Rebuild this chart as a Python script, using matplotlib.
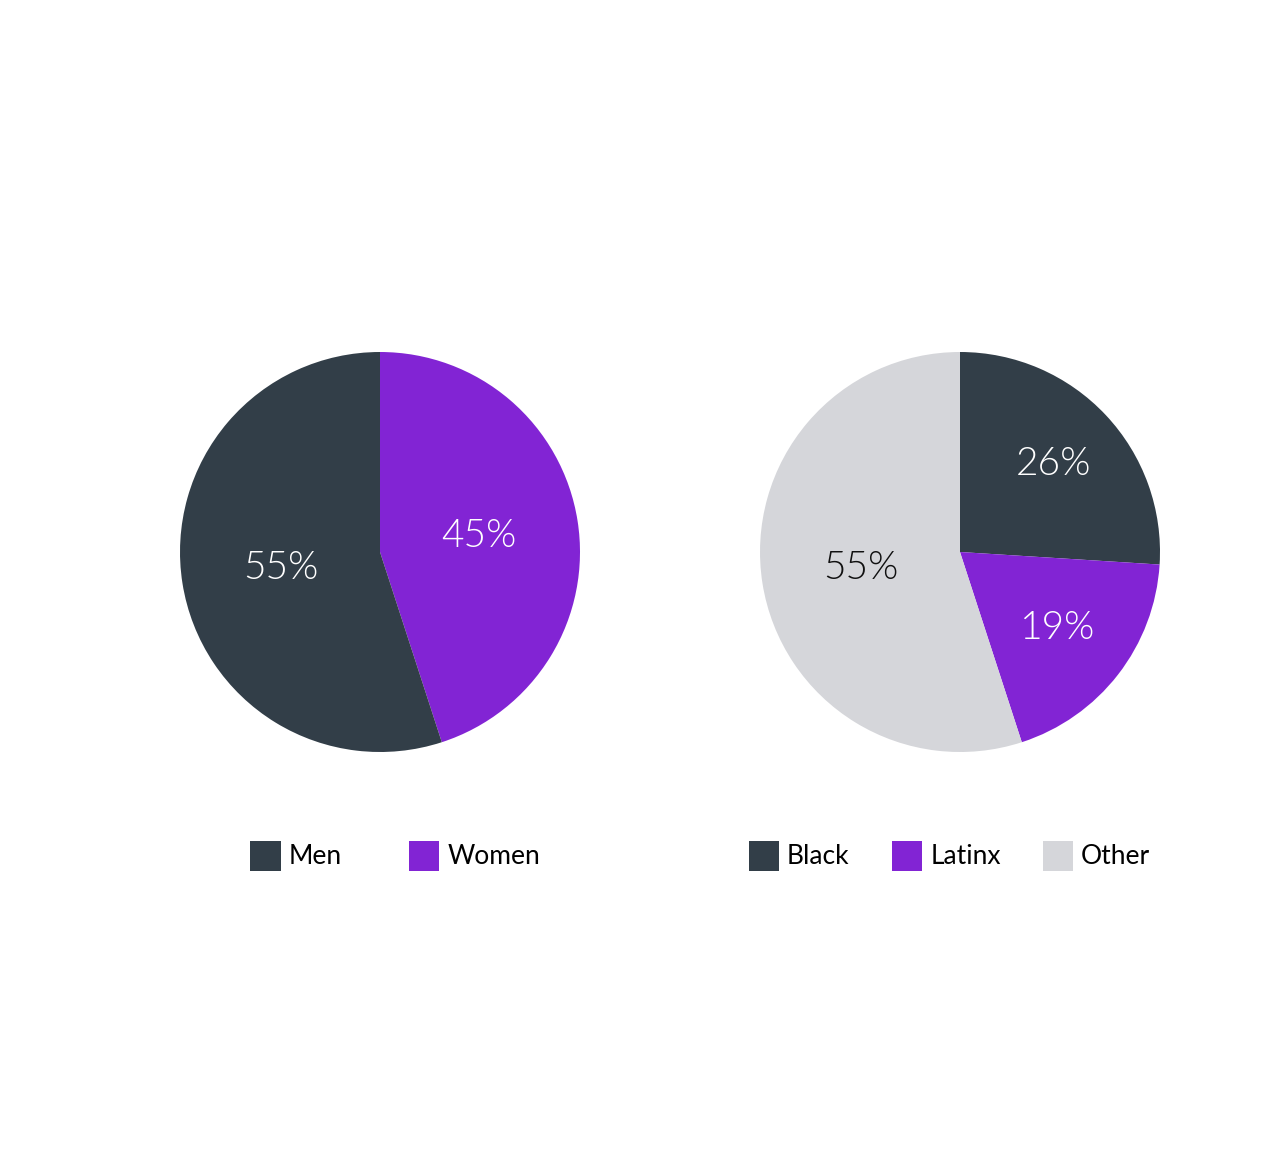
import matplotlib
matplotlib.use("Agg")
import numpy as np
import matplotlib.pyplot as plt
from matplotlib.patches import Patch

plt.rcParams['font.family'] = ['Lato', 'DejaVu Sans']

# --- дані ---
gender_labels = ["Women", "Men"]
gender_values = [45, 55]
gender_colors = ["#8224D4", "#323E48"]
gender_text_colors = ["white", "white"]
gender_label_r = [0.5, 0.5]
gender_legend = ["Men", "Women"]

race_labels = ["Black", "Latinx", "Other"]
race_values = [26, 19, 55]
race_colors = ["#323E48", "#8224D4", "#D5D6DA"]
race_text_colors = ["white", "white", "#111111"]
race_label_r = [0.64, 0.62, 0.5]

color_of = {"Men": "#323E48", "Women": "#8224D4",
            "Black": "#323E48", "Latinx": "#8224D4", "Other": "#D5D6DA"}


def draw_pie(ax, values, colors, text_colors, label_r, legend_names, colspacing, leg_x):
    ax.pie(values, colors=colors, startangle=90, counterclock=False,
           radius=1.0, wedgeprops=dict(linewidth=0))
    total = sum(values)
    # підписи відсотків
    angle = 90.0
    for v, tc, r in zip(values, text_colors, label_r):
        span = 360.0 * v / total
        mid = np.deg2rad(angle - span / 2)
        ax.text(r * np.cos(mid), r * np.sin(mid), f"{v}%",
                ha="center", va="center", color=tc, fontsize=28,
                fontweight=300)
        angle -= span
    ax.set_xlim(-1, 1)
    ax.set_ylim(-1, 1)
    ax.set_aspect("equal")
    ax.axis("off")
    handles = [Patch(facecolor=color_of[n], edgecolor="none") for n in legend_names]
    ax.legend(handles, legend_names, loc="upper center", bbox_to_anchor=(leg_x, -0.195),
              ncol=len(legend_names), frameon=False, fontsize=19,
              handlelength=1.15, handleheight=1.39, handletextpad=0.3,
              columnspacing=colspacing, borderaxespad=0)


fig = plt.figure(figsize=(12.8, 11.68), dpi=100)
W, H = 1280, 1168
ax1 = fig.add_axes([180 / W, 1 - 752 / H, 400 / W, 400 / H])
ax2 = fig.add_axes([760 / W, 1 - 752 / H, 400 / W, 400 / H])

draw_pie(ax1, gender_values, gender_colors, gender_text_colors, gender_label_r,
         gender_legend, 2.55, 0.5375)
draw_pie(ax2, race_values, race_colors, race_text_colors, race_label_r,
         race_labels, 1.6, 0.474)

fig.savefig("out.png", dpi=100, facecolor="white")
